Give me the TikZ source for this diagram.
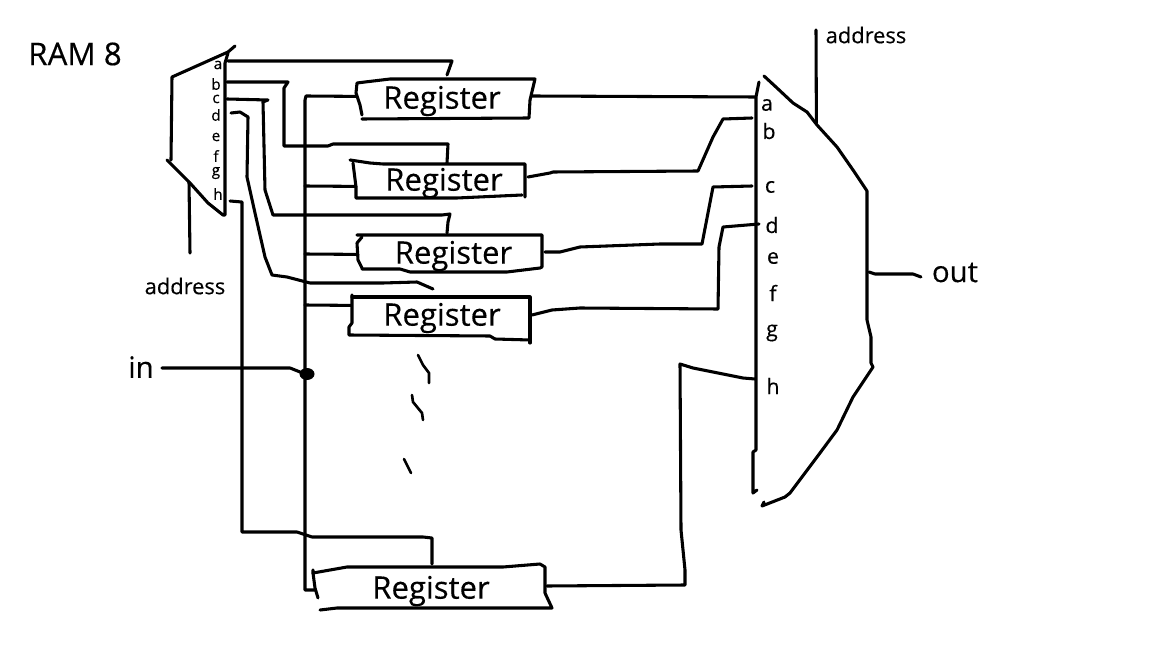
\documentclass[tikz,border=0pt]{standalone}
\usepackage{fontspec}
\setmainfont{Open Sans}[RawFeature={embolden=0.35}]
\begin{document}
\begin{tikzpicture}[x=0.75pt,y=-0.75pt,
  wire/.style={draw=black,line width=2.3pt,line join=round,line cap=round},
  thin wire/.style={wire,line width=2pt},
  reglabel/.style={font=\fontsize{23.3pt}{26pt}\selectfont,inner sep=0pt,text=black},
  biglabel/.style={font=\fontsize{22pt}{26pt}\selectfont,inner sep=0pt,text=black},
  titlelabel/.style={font=\fontsize{23.5pt}{26pt}\selectfont,inner sep=0pt,text=black},
  addrlabel/.style={font=\fontsize{16.4pt}{19pt}\selectfont,inner sep=0pt,text=black},
  smallpin/.style={font=\fontsize{11.5pt}{13pt}\selectfont,inner sep=0pt,text=black},
  bigpin/.style={font=\fontsize{16pt}{18pt}\selectfont,inner sep=0pt,text=black}]
\useasboundingbox (0,0) rectangle (1152,648);
\fill[white] (0,0) rectangle (1152,648);

% labels
\node[titlelabel] (title) at (75,54) {RAM 8};
\node[addrlabel] (addrL) at (185,286) {address};
\node[addrlabel] (addrR) at (866,35) {address};
\node[biglabel] (inlabel) at (141,367) {in};
\node[biglabel] (outlabel) at (955,272.5) {out};

% register labels
\node[reglabel] (reg1) at (442,101) {Register};
\node[reglabel] (reg2) at (444,183) {Register};
\node[reglabel] (reg3) at (453.5,256) {Register};
\node[reglabel] (reg4) at (442,318) {Register};
\node[reglabel] (reg8) at (431,591) {Register};

% demux pins
\foreach \n/\t/\px/\py in {a/a/218/65,b/b/216/84,c/c/216/99,d/d/216/115,e/e/216/137,f/f/216/156,g/g/216/173,h/h/218/194}
  \node[smallpin] (dm\n) at (\px,\py) {\t};
% mux pins
\foreach \n/\t/\px/\py in {a/a/767/105,b/b/769/131,c/c/770/187,d/d/772/225,e/e/773/258,f/f/773/293,g/g/772/333,h/h/773/386}
  \node[bigpin] (mx\n) at (\px,\py) {\t};

% named wire ends
\coordinate (busTop) at (306,96);
\coordinate (busIn) at (305,186);
\coordinate (busC) at (305,254);
\coordinate (busD) at (305,305);
\coordinate (junction) at (307,374);
\coordinate (r1in) at (357,96.4);
\coordinate (r2in) at (356,186.4);
\coordinate (r3in) at (358,254.4);
\coordinate (r4in) at (351,305.4);
\coordinate (r8in) at (315,590);
\coordinate (r1out) at (532,96);
\coordinate (r2out) at (528,177);
\coordinate (r3out) at (545,252);
\coordinate (r4out) at (532,315);
\coordinate (r8out) at (547,586);
\coordinate (mxIa) at (755,97);
\coordinate (mxIb) at (752,118);
\coordinate (mxIc) at (752,186);
\coordinate (mxId) at (759,224);
\coordinate (mxIh) at (755,379);

% demux outline
\draw[wire] (235,46) -- (228,52) -- (172,77) -- (171,160);
\draw[wire] (228,53) -- (225,63) -- (225,215) -- (223,215) -- (208,203) -- (190,183) -- (167,160);
\draw[wire] (189,182) -- (190,253);

% enable wires
\draw[wire] (228,61) -- (452,61) -- (447,75);
\draw[wire] (227,82) -- (288,82) -- (284,88) -- (284,146) -- (328,146) -- (333,144) -- (448,144) -- (447,163);
\draw[wire] (227,99) -- (268,100) -- (263,102) -- (265,190) -- (273,215) -- (442,215) -- (450,214) -- (448,222) -- (447,233);
\draw[wire] (231,113) -- (240,112) -- (248,117) -- (247,177) -- (255,213) -- (265,257) -- (272,275) -- (287,277) -- (310,283) -- (383,283) -- (417,282) -- (433,289);
\draw[wire] (230,201) -- (242,202) -- (242,532) -- (297,532) -- (312,537) -- (423,537) -- (432,538) -- (432,564);

% bus
\draw[wire] (r1in) -- (busTop) -- (305,100) -- (305,590) -- (r8in);
\draw[wire] (busIn) -- (r2in);
\draw[wire] (busC) -- (r3in);
\draw[wire] (busD) -- (r4in);
\draw[wire] (inlabel.east) ++(8,1) -- (290,368) -- (300,372) -- (junction);
\fill (junction) ellipse [x radius=7.5,y radius=6];

% register 1
\draw[wire] (362,115) -- (360,105) -- (356,93) -- (357,83) -- (365,82) -- (390,79) -- (535,79) -- (530,100) -- (529,118) -- (362,119);
% register 2
\draw[wire] (350,160) -- (370,163) -- (383,164) -- (525,164) -- (525,197);
\draw[wire] (353,163) -- (356,187) -- (356,198) -- (457,198) -- (522,195);
% register 3
\draw[wire] (357,235) -- (542,235) -- (542,267) -- (540,268) -- (507,272) -- (410,272) -- (400,269) -- (362,269);
\draw[wire] (362,237) -- (357,243) -- (358,260) -- (362,268);
% register 4
\draw[wire] (352,295) -- (352,323) -- (349,327) -- (349,335) -- (490,336) -- (495,339) -- (530,340);
\draw[wire] (352,297) -- (530,297) -- (530,343);
% register 8
\draw[wire] (313,570) -- (313,573) -- (347,567) -- (503,567) -- (540,564) -- (545,567) -- (545,593) -- (552,608) -- (337,608) -- (320,610);
\draw[wire] (313,573) -- (315,588) -- (318,598);

% outputs
\draw[wire] (r1out) -- (mxIa);
\draw[wire] (r2out) -- (550,173) -- (553,172) -- (698,171) -- (713,137) -- (723,119) -- (mxIb);
\draw[wire] (r3out) -- (560,252) -- (580,247) -- (660,244) -- (702,244) -- (713,187) -- (mxIc);
\draw[wire] (r4out) -- (552,310) -- (580,308) -- (718,309) -- (719,247) -- (723,227) -- (mxId);
\draw[wire] (r8out) -- (685,585) -- (685,570) -- (681,530) -- (680,364) -- (693,368) -- (743,378) -- (mxIh);

% mux outline
\draw[wire] (759,82) -- (756,97) -- (756,450) -- (753,452) -- (753,493) -- (757,490);
\draw[wire] (764,76) -- (777,88) -- (793,103) -- (807,112) -- (817,125) -- (837,147) -- (853,170) -- (867,191) -- (867,320) -- (871,337) -- (871,363) -- (873,367) -- (853,397) -- (837,430) -- (817,457) -- (790,493) -- (785,497) -- (762,506) -- (764,502);
\draw[wire] (816,30) -- (816.4,123);
\draw[wire] (869,272) -- (875,274) -- (913,274) -- (921,277);

% ellipsis strokes
\draw[thin wire] (418,355) -- (423,365) -- (429,373) -- (429,383);
\draw[thin wire] (412,395) -- (413,402) -- (422,413) -- (423,420);
\draw[thin wire] (404,459) -- (411,473);
\end{tikzpicture}
\end{document}
